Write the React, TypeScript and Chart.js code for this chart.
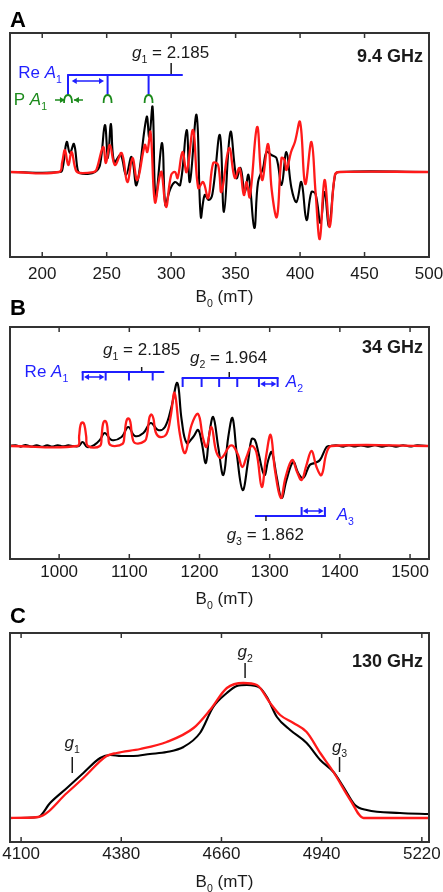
import React, { useEffect, useRef } from "react";
import { Chart, registerables } from "chart.js";

Chart.register(...registerables);

const FONT = "'Liberation Sans', Arial, Helvetica, sans-serif";
const RED = "#ff1a1a";
const BLACK = "#000000";
const BLUE = "#1f1fff";
const GREEN = "#1b8a1b";
const FRAME = "#333333";
const TEXT = "#1a1a1a";

// ---------------- Panel A (9.4 GHz) ----------------
const aTicks = [200, 250, 300, 350, 400, 450, 500];
const aBlack = [
  [175, 0], [214, 0], [216, 0.05], [219, 0.3], [221.5, 0.19], [224.6, 0.28], [227.5, 0.02], [229, -0.01],
  [235, -0.02], [241, 0], [244.8, 0.07], [248.6, 0.47], [251, 0.14], [253.3, 0.48], [255.8, 0.1],
  [260.8, 0.17], [265, -0.03], [269.3, 0.15], [273.2, -0.13], [281, 0.55], [283, 0.35], [285.6, 0.65],
  [288, -0.25], [293, 0.29], [295.5, -0.33], [299, -0.18], [303, -0.1], [307, -0.13], [312, 0.42],
  [314.5, -0.1], [319.7, 0.57], [323, -0.45], [326, -0.23], [329, -0.28], [332, -0.22], [337.8, 0.37],
  [341, -0.4], [346, 0.4], [350.7, -0.06], [353.8, 0.04], [357, -0.2], [360, -0.03], [364.5, -0.56],
  [367.4, -0.1], [371.3, 0.04], [374, 0.2], [377.8, 0.17], [381.7, 0.14], [385.6, -0.13], [389.4, 0.2],
  [393.3, -0.16], [397.2, -0.3], [401, -0.1], [405, -0.48], [408.8, -0.2], [412, -0.22], [415.8, -0.51],
  [419, -0.2], [422.5, -0.54], [427, -0.04], [430, 0], [500, 0],
];
const aRed = [
  [175, 0], [213, 0], [215.5, 0.1], [217.6, 0.22], [220.2, 0.07], [222.8, 0.2], [226, 0.02], [229, -0.01],
  [240, 0], [242, 0.02], [247.3, 0.25], [249.4, 0.09], [252.5, 0.27], [256.4, 0.07], [261.6, 0.19],
  [266, -0.1], [270, 0.14], [273.7, -0.08], [279.6, 0.27], [281.5, 0.2], [284, 0.4], [287.4, -0.3],
  [291, -0.05], [292.6, 0], [296, -0.35], [300, -0.03], [303, 0], [305, -0.06], [308.8, 0.2], [312, 0],
  [317, 0.42], [321, -0.16], [324.8, -0.1], [328.7, -0.26], [332.6, 0.09], [336.4, 0.07], [339, -0.2],
  [345, 0.24], [349.4, -0.06], [353, 0.04], [356.4, -0.23], [358.5, -0.1], [361, -0.25], [366.7, 0.45],
  [370.5, -0.08], [375.2, 0.28], [378, -0.18], [382, -0.45], [385.6, 0.14], [388, 0.12], [389.5, 0.02],
  [393, 0.2], [396, 0.3], [400, 0.5], [404, -0.12], [408.8, 0.3], [412, -0.2], [415.3, -0.67],
  [419, -0.08], [423, -0.55], [427, -0.03], [430.8, 0], [500, 0],
];
const aReLines = [220, 250.7, 282.5];

// ---------------- Panel B (34 GHz) ----------------
const bTicks = [1000, 1100, 1200, 1300, 1400, 1500];
const bBlack = [
  [930, 0], [938, 0.008], [945, -0.006], [952, 0.01], [960, -0.005], [968, 0.007], [975, -0.008],
  [983, 0.006], [990, -0.006], [998, 0.008], [1005, -0.004], [1013, 0.006], [1020, 0], [1028, 0],
  [1033.5, 0.04], [1040, -0.01], [1050, 0.01], [1058, 0.06], [1065, 0.13], [1074.8, 0.06], [1089, 0.09],
  [1098.5, 0.19], [1108, 0.1], [1120, 0.13], [1130.6, 0.23], [1141, 0.16], [1150.8, 0.19], [1160, 0.39],
  [1168.4, 0.63], [1174.6, 0.26], [1181.7, 0.03], [1191, 0.09], [1198, 0.16], [1203, 0.04], [1209, -0.17],
  [1214, 0.12], [1219.6, 0.29], [1226.7, -0.01], [1234, -0.29], [1241, 0.09], [1247, 0.28], [1253, -0.07],
  [1261.5, -0.44], [1269.5, -0.14], [1274.3, 0.07], [1279, 0.06], [1284, -0.07], [1292.4, -0.29],
  [1298, -0.14], [1303, -0.06], [1310, -0.31], [1317, -0.52], [1324, -0.34], [1333.5, -0.16],
  [1340.6, -0.27], [1347.8, -0.32], [1357, -0.19], [1364, -0.17], [1371.6, -0.14], [1381, -0.01],
  [1386, 0], [1395, 0.007], [1405, -0.006], [1413, 0.008], [1420, -0.005], [1430, 0.006], [1440, -0.007],
  [1450, 0.008], [1460, -0.006], [1470, 0.005], [1480, -0.006], [1490, 0.007], [1500, -0.004],
  [1510, 0.006], [1527, 0],
];
const bRed = [
  [930, 0], [1026, 0], [1028.5, 0.1], [1030.5, 0.21], [1033.3, 0.235], [1036, 0.21], [1038.5, 0.1],
  [1041, 0], [1058, 0], [1060.5, 0.1], [1062.5, 0.22], [1065.3, 0.25], [1068, 0.22], [1070, 0.1],
  [1073, 0.01], [1090, 0.02], [1093, 0.1], [1095.5, 0.24], [1098.5, 0.275], [1101.5, 0.24], [1104, 0.1],
  [1108, 0.03], [1122, 0.05], [1125.5, 0.12], [1128.5, 0.28], [1131.5, 0.315], [1134.5, 0.27],
  [1137.5, 0.14], [1143.7, 0.09], [1153, 0.12], [1159, 0.3], [1164.5, 0.53], [1172, 0.12],
  [1179.5, -0.07], [1188.7, 0.21], [1198, 0.32], [1205, 0.08], [1210, -0.01], [1217, 0.19], [1224, -0.06],
  [1231, -0.12], [1243, 0], [1248, 0], [1255, -0.09], [1261, -0.21], [1267, -0.11], [1274, 0],
  [1281, -0.06], [1288.7, -0.41], [1295, -0.1], [1301.4, 0.11], [1307.5, -0.24], [1316, -0.52],
  [1322.7, -0.31], [1332, -0.14], [1339, -0.26], [1345.5, -0.34], [1352, -0.2], [1359.7, -0.05],
  [1366.7, -0.21], [1373.8, -0.29], [1381, -0.07], [1388, 0], [1527, 0],
];
const bReTicks = [1033.6, 1066.3, 1099.5, 1133.3];
const bA2Ticks = [1176, 1203, 1228, 1253.8, 1284.7, 1311.3];
const bA3Ticks = [1345.5, 1378.7];

// ---------------- Panel C (130 GHz) ----------------
const cTicks = [4100, 4380, 4660, 4940, 5220];
const cBlack = [
  [4069, 0], [4148, 0.01], [4181, 0.15], [4228, 0.3], [4274, 0.45], [4321, 0.6], [4349, 0.63],
  [4380, 0.62], [4414, 0.62], [4460, 0.64], [4507, 0.66], [4554, 0.71], [4600, 0.85], [4637, 1.11],
  [4675, 1.25], [4703, 1.32], [4731, 1.33], [4768, 1.3], [4787, 1.21], [4815, 1.01], [4852, 0.88],
  [4898, 0.75], [4936, 0.58], [4973, 0.46], [5001, 0.31], [5033, 0.13], [5066, 0.08], [5159, 0.05],
  [5240, 0.04],
];
const cRed = [
  [4069, 0], [4148, 0.01], [4228, 0.25], [4274, 0.4], [4339, 0.62], [4367, 0.65], [4433, 0.69],
  [4507, 0.76], [4582, 0.9], [4628, 1.08], [4675, 1.3], [4721, 1.35], [4759, 1.33], [4796, 1.15],
  [4824, 1.03], [4861, 0.95], [4898, 0.86], [4936, 0.65], [4973, 0.46], [5020, 0.18], [5057, 0],
  [5240, 0],
];
const cGMarks = [
  { field: 4243, sub: "1", label: 0.7, from: 0.61, to: 0.45 },
  { field: 4726, sub: "2", label: 1.61, from: 1.55, to: 1.4 },
  { field: 4990, sub: "3", label: 0.66, from: 0.61, to: 0.46 },
];

// ---------------- drawing helpers ----------------
type Part = { t: string; it?: boolean; sub?: boolean; b?: boolean };

function fnt(size: number, it?: boolean, b?: boolean) {
  return `${it ? "italic " : ""}${b ? "bold " : ""}${size}px ${FONT}`;
}

function rich(ctx: CanvasRenderingContext2D, parts: Part[], x: number, y: number, align: string, color: string, size = 17) {
  const widths = parts.map((p) => {
    ctx.font = fnt(p.sub ? size * 0.62 : size, p.it, p.b);
    return ctx.measureText(p.t).width;
  });
  const total = widths.reduce((a, b) => a + b, 0);
  let cx = align === "left" ? x : align === "right" ? x - total : x - total / 2;
  ctx.fillStyle = color;
  ctx.textAlign = "left";
  ctx.textBaseline = "alphabetic";
  parts.forEach((p, i) => {
    ctx.font = fnt(p.sub ? size * 0.62 : size, p.it, p.b);
    ctx.fillText(p.t, cx, p.sub ? y + 5 : y);
    cx += widths[i];
  });
}

function seg(ctx: CanvasRenderingContext2D, x1: number, y1: number, x2: number, y2: number, color: string, lw = 2) {
  ctx.strokeStyle = color;
  ctx.lineWidth = lw;
  ctx.beginPath();
  ctx.moveTo(x1, y1);
  ctx.lineTo(x2, y2);
  ctx.stroke();
}

function head(ctx: CanvasRenderingContext2D, x: number, y: number, dir: number, color: string) {
  ctx.fillStyle = color;
  ctx.beginPath();
  ctx.moveTo(x, y);
  ctx.lineTo(x - dir * 5, y - 3);
  ctx.lineTo(x - dir * 5, y + 3);
  ctx.closePath();
  ctx.fill();
}

function arrow(ctx: CanvasRenderingContext2D, x1: number, x2: number, y: number, color: string) {
  seg(ctx, x1, y, x2, y, color, 1.5);
  head(ctx, x2, y, x2 > x1 ? 1 : -1, color);
}

function dblArrow(ctx: CanvasRenderingContext2D, x1: number, x2: number, y: number, color: string) {
  seg(ctx, x1 + 2, y, x2 - 2, y, color, 1.5);
  head(ctx, x1, y, -1, color);
  head(ctx, x2, y, 1, color);
}

function arch(ctx: CanvasRenderingContext2D, x: number, yTop: number, color: string) {
  ctx.strokeStyle = color;
  ctx.lineWidth = 1.8;
  ctx.beginPath();
  ctx.moveTo(x - 4, yTop + 8);
  ctx.quadraticCurveTo(x - 4, yTop, x, yTop);
  ctx.quadraticCurveTo(x + 4, yTop, x + 4, yTop + 8);
  ctx.stroke();
}

type XY = (v: number) => number;

function drawA(ctx: CanvasRenderingContext2D, X: XY, Y: XY) {
  seg(ctx, X(300), Y(1.09), X(300), Y(0.97), TEXT, 1.5);
  rich(ctx, [{ t: "g", it: true }, { t: "1", sub: true }, { t: " = 2.185" }], X(269.6), Y(1.14), "left", TEXT);
  seg(ctx, X(219.3), Y(0.97), X(309), Y(0.97), BLUE, 2);
  aReLines.forEach((f) => seg(ctx, X(f), Y(0.97), X(f), Y(0.77), BLUE, 2));
  dblArrow(ctx, X(222.9), X(247.9), Y(0.91), BLUE);
  aReLines.forEach((f) => arch(ctx, X(f), Y(0.77), GREEN));
  arrow(ctx, X(209.9), X(217.6), Y(0.72), GREEN);
  arrow(ctx, X(231.6), X(224.6), Y(0.72), GREEN);
  rich(ctx, [{ t: "Re " }, { t: "A", it: true }, { t: "1", sub: true }], X(215.3), Y(0.94), "right", BLUE);
  rich(ctx, [{ t: "P " }, { t: "A", it: true }, { t: "1", sub: true }], X(203.7), Y(0.67), "right", GREEN);
}

function drawB(ctx: CanvasRenderingContext2D, X: XY, Y: XY) {
  rich(ctx, [{ t: "g", it: true }, { t: "1", sub: true }, { t: " = 2.185" }], X(1062.5), Y(0.91), "left", TEXT);
  seg(ctx, X(1117.6), Y(0.79), X(1117.6), Y(0.74), TEXT, 1.5);
  seg(ctx, X(1033.6) - 1, Y(0.74), X(1149.8), Y(0.74), BLUE, 2);
  bReTicks.forEach((f) => seg(ctx, X(f), Y(0.74), X(f), Y(0.655), BLUE, 2));
  dblArrow(ctx, X(1035.5), X(1064.5), Y(0.69), BLUE);
  rich(ctx, [{ t: "Re " }, { t: "A", it: true }, { t: "1", sub: true }], X(1013), Y(0.69), "right", BLUE);

  rich(ctx, [{ t: "g", it: true }, { t: "2", sub: true }, { t: " = 1.964" }], X(1186.4), Y(0.83), "left", TEXT);
  seg(ctx, X(1242.4), Y(0.74), X(1242.4), Y(0.68), TEXT, 1.5);
  seg(ctx, X(1176) - 1, Y(0.68), X(1311.3) + 1, Y(0.68), BLUE, 2);
  bA2Ticks.forEach((f) => seg(ctx, X(f), Y(0.68), X(f), Y(0.59), BLUE, 2));
  dblArrow(ctx, X(1286.5), X(1309.5), Y(0.62), BLUE);
  rich(ctx, [{ t: "A", it: true }, { t: "2", sub: true }], X(1323), Y(0.59), "left", BLUE);

  seg(ctx, X(1279), Y(-0.7), X(1378.7) + 1, Y(-0.7), BLUE, 2);
  bA3Ticks.forEach((f) => seg(ctx, X(f), Y(-0.7), X(f), Y(-0.61), BLUE, 2));
  dblArrow(ctx, X(1347.3), X(1376.9), Y(-0.65), BLUE);
  seg(ctx, X(1294.7), Y(-0.7), X(1294.7), Y(-0.75), TEXT, 1.5);
  rich(ctx, [{ t: "A", it: true }, { t: "3", sub: true }], X(1395.4), Y(-0.74), "left", BLUE);
  rich(ctx, [{ t: "g", it: true }, { t: "3", sub: true }, { t: " = 1.862" }], X(1238.7), Y(-0.94), "left", TEXT);
}

function drawC(ctx: CanvasRenderingContext2D, X: XY, Y: XY) {
  cGMarks.forEach((m) => {
    rich(ctx, [{ t: "g", it: true }, { t: m.sub, sub: true }], X(m.field), Y(m.label), "center", TEXT);
    seg(ctx, X(m.field), Y(m.from), X(m.field), Y(m.to), TEXT, 1.5);
  });
}

type Panel = {
  red: number[][];
  black: number[][];
  xMin: number;
  xMax: number;
  yMin: number;
  yMax: number;
  ticks: number[];
  top: number;
  bottomPad: number;
  tickPad: number;
  letter: string;
  letterY: number;
  freq: string;
  freqDy: number;
  smooth: boolean;
  draw: (ctx: CanvasRenderingContext2D, X: XY, Y: XY) => void;
};

const panels: Panel[] = [
  { red: aRed, black: aBlack, xMin: 175, xMax: 500, yMin: -0.85, yMax: 1.39, ticks: aTicks, top: 33, bottomPad: 590, tickPad: 7, letter: "A", letterY: 27, freq: "9.4 GHz", freqDy: 28.5, smooth: true, draw: drawA },
  { red: bRed, black: bBlack, xMin: 930, xMax: 1527, yMin: -1.13, yMax: 1.19, ticks: bTicks, top: 327, bottomPad: 288, tickPad: 3.5, letter: "B", letterY: 315, freq: "34 GHz", freqDy: 26, smooth: true, draw: drawB },
  { red: cRed, black: cBlack, xMin: 4069, xMax: 5240, yMin: -0.24, yMax: 1.85, ticks: cTicks, top: 633, bottomPad: 5, tickPad: 2, letter: "C", letterY: 623, freq: "130 GHz", freqDy: 34, smooth: false, draw: drawC },
];

function makeChart(canvas: HTMLCanvasElement, p: Panel) {
  const deco = {
    id: "deco" + p.letter,
    afterDatasetsDraw(chart: any) {
      const ctx: CanvasRenderingContext2D = chart.ctx;
      const xs = chart.scales.x;
      const ys = chart.scales.y;
      const X = (v: number) => xs.getPixelForValue(v);
      const Y = (v: number) => ys.getPixelForValue(v);
      const a = chart.chartArea;
      ctx.save();
      ctx.lineCap = "butt";
      ctx.strokeStyle = FRAME;
      ctx.lineWidth = 2;
      ctx.strokeRect(a.left, a.top, a.right - a.left, a.bottom - a.top);
      p.ticks.forEach((v) => {
        const x = X(v);
        seg(ctx, x, a.bottom, x, a.bottom - 5, FRAME, 1.5);
        seg(ctx, x, a.top, x, a.top + 5, FRAME, 1.5);
      });
      p.draw(ctx, X, Y);
      rich(ctx, [{ t: p.freq, b: true }], a.right - 6, a.top + p.freqDy, "right", TEXT, 18);
      rich(ctx, [{ t: p.letter, b: true }], 10, p.letterY, "left", "#000", 22);
      rich(ctx, [{ t: "B" }, { t: "0", sub: true }, { t: " (mT)" }], (a.left + a.right) / 2 + 5, a.bottom + 45, "center", TEXT);
      ctx.restore();
    },
  };

  const lineStyle = p.smooth
    ? { tension: 0.4, cubicInterpolationMode: "default" }
    : { tension: 0, cubicInterpolationMode: "monotone" };

  return new Chart(canvas, {
    type: "line",
    data: {
      datasets: [
        {
          data: p.red.map(([x, y]) => ({ x, y })),
          borderColor: RED,
          borderWidth: 2.3,
          pointRadius: 0,
          order: 0,
          ...lineStyle,
        },
        {
          data: p.black.map(([x, y]) => ({ x, y })),
          borderColor: BLACK,
          borderWidth: 2.1,
          pointRadius: 0,
          order: 1,
          ...lineStyle,
        },
      ],
    },
    options: {
      animation: false,
      responsive: false,
      maintainAspectRatio: false,
      events: [],
      layout: { padding: { left: 10, right: 14, top: p.top, bottom: p.bottomPad } },
      plugins: { legend: { display: false }, tooltip: { enabled: false }, title: { display: false } },
      scales: {
        x: {
          type: "linear",
          position: "bottom",
          min: p.xMin,
          max: p.xMax,
          grid: { display: false, drawTicks: false },
          border: { display: false },
          ticks: {
            color: TEXT,
            font: { family: FONT, size: 17 },
            padding: p.tickPad,
            autoSkip: false,
            maxRotation: 0,
            minRotation: 0,
            callback: (v: any) => String(v),
          },
          afterBuildTicks: (s: any) => {
            s.ticks = p.ticks.map((v) => ({ value: v }));
          },
          afterFit: (s: any) => {
            s.height = 45;
            s.paddingLeft = 0;
            s.paddingRight = 0;
          },
        },
        y: { type: "linear", display: false, min: p.yMin, max: p.yMax },
      },
    },
    plugins: [deco],
  } as any);
}

export default function App() {
  const refA = useRef<HTMLCanvasElement>(null);
  const refB = useRef<HTMLCanvasElement>(null);
  const refC = useRef<HTMLCanvasElement>(null);

  useEffect(() => {
    const refs = [refA, refB, refC];
    const charts = refs.map((r, i) => makeChart(r.current as HTMLCanvasElement, panels[i]));
    return () => charts.forEach((c) => c.destroy());
  }, []);

  const st: React.CSSProperties = { position: "absolute", left: 0, top: 0, width: 443, height: 892 };
  return (
    <div style={{ position: "absolute", left: 0, top: 0, width: 443, height: 892, background: "#fff" }}>
      <canvas ref={refA} width={443} height={892} style={st} />
      <canvas ref={refB} width={443} height={892} style={st} />
      <canvas ref={refC} width={443} height={892} style={st} />
    </div>
  );
}
